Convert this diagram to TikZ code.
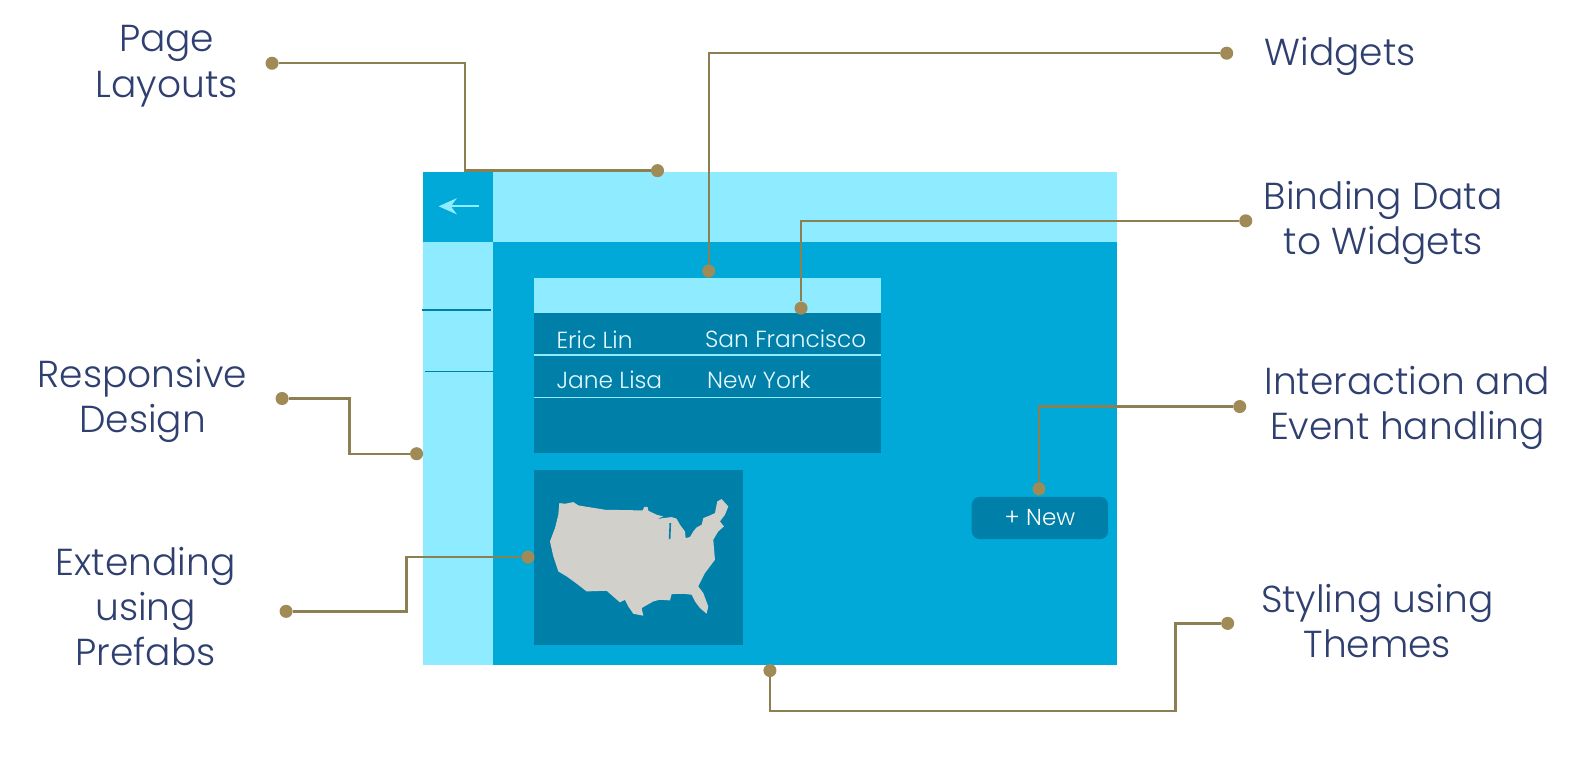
\documentclass[tikz,border=0pt]{standalone}
\usepackage{fontspec}
\setmainfont{Poppins}[UprightFont=* Light]
\usetikzlibrary{arrows.meta}
\definecolor{lightcyan}{HTML}{8FEBFF}
\definecolor{maincyan}{HTML}{00A9D8}
\definecolor{darkcyan}{HTML}{007FA8}
\definecolor{mapgray}{HTML}{D2D0CA}
\definecolor{linkbrown}{HTML}{8C7F52}
\definecolor{dotbrown}{HTML}{A08A55}
\definecolor{labelblue}{HTML}{2F4070}
\definecolor{rowtext}{HTML}{E4FAFF}
\tikzset{
    link/.style={draw=linkbrown,line width=1.2pt},
    dot/.style={circle,fill=dotbrown,inner sep=0pt,minimum size=6.5pt},
    label/.style={text=labelblue,font=\fontsize{18.7}{22.5}\selectfont,align=center},
    rowlabel/.style={text=rowtext,font=\fontsize{11.6}{14}\selectfont,anchor=base west,inner sep=0pt},
}
\begin{document}
\begin{tikzpicture}[x=0.5pt,y=-0.5pt]
    \useasboundingbox (0,0) rectangle (1568,756);
    \fill[white] (0,0) rectangle (1568,756);

    % Page frame
    \fill[maincyan] (421,171) rectangle (1113,662);
    \fill[lightcyan] (421,171) rectangle (1113,241);
    \fill[lightcyan] (421,241) rectangle (491,662);
    \fill[maincyan] (421,171) rectangle (491,241);
    \draw[lightcyan,line width=1pt,-{Stealth[length=9pt,width=8pt]}] (477,205.5) -- (437,205.5);
    \draw[darkcyan,line width=0.8pt] (420,309) -- (489,309);
    \draw[darkcyan,line width=0.8pt] (423,370) -- (491,370);

    % Table
    \fill[darkcyan] (532,312) rectangle (878,451);
    \fill[lightcyan] (532,277) rectangle (878,312);
    \draw[lightcyan,line width=0.8pt] (532,353.5) -- (878,353.5);
    \draw[lightcyan,line width=0.8pt] (532,396) -- (878,396);
    \node[rowlabel] (ericname) at (554,347) {Eric Lin};
    \node[rowlabel] (ericcity) at (702,346) {San Francisco};
    \node[rowlabel] (janename) at (554,387) {Jane Lisa};
    \node[rowlabel] (janecity) at (704,387) {New York};

    % Map
    \fill[darkcyan] (532,468) rectangle (740,643);
    \begin{scope}[shift={(518,458)},x=0.166pt,y=-0.166pt]
        \fill[mapgray] (118,130) -- (135,132) -- (160,127) -- (175,137) -- (255,150) -- (368,152)
            -- (373,141) -- (383,142) -- (385,153) -- (410,165) -- (430,170) -- (410,178)
            -- (430,175) -- (455,172) -- (470,177) -- (480,195) -- (495,215) -- (497,235)
            -- (510,232) -- (520,215) -- (530,203) -- (545,195) -- (550,175) -- (570,167)
            -- (585,160) -- (592,125) -- (605,118) -- (625,140) -- (615,165) -- (600,185)
            -- (612,200) -- (595,215) -- (580,240) -- (585,300) -- (570,320) -- (555,340)
            -- (535,380) -- (550,400) -- (565,440) -- (560,462) -- (540,445) -- (525,425)
            -- (515,405) -- (490,402) -- (455,403) -- (450,422) -- (420,420) -- (400,425)
            -- (365,445) -- (370,468) -- (340,462) -- (325,440) -- (315,420) -- (300,428)
            -- (285,415) -- (260,393) -- (200,395) -- (165,368) -- (140,350) -- (115,335)
            -- (100,290) -- (90,245) -- (105,205) -- (115,165) -- cycle;
        \draw[darkcyan,line width=0.8pt] (451,190) -- (449,238);
    \end{scope}

    % Button
    \node[fill=darkcyan,rounded corners=4pt,minimum width=68pt,minimum height=21pt,inner sep=0pt,
        text=white,font=\fontsize{11.5}{14}\selectfont] (newbutton) at (1036,516) {+ New};

    % Labels
    \node[label] (pagelabel) at (166,66) {Page\\Layouts};
    \node[label] (widgetlabel) at (1335,56) {Widgets};
    \node[label] (bindlabel) at (1378,222) {Binding Data\\to Widgets};
    \node[label] (respondlabel) at (142,399) {Responsive\\Design};
    \node[label] (eventlabel) at (1402,406) {Interaction and\\Event handling};
    \node[label] (prefablabel) at (145,604.5) {Extending\\using\\Prefabs};
    \node[label] (themelabel) at (1372,619) {Styling using\\Themes};

    % Connector dots
    \node[dot] (pagea) at (271,63) {};
    \node[dot] (pageb) at (655,170) {};
    \node[dot] (widgeta) at (1222,53) {};
    \node[dot] (widgetb) at (706,270) {};
    \node[dot] (binda) at (1241,220) {};
    \node[dot] (bindb) at (798,307) {};
    \node[dot] (eventa) at (1235,405) {};
    \node[dot] (eventb) at (1035,487) {};
    \node[dot] (themea) at (1223,621) {};
    \node[dot] (themeb) at (767,668) {};
    \node[dot] (responda) at (281,397) {};
    \node[dot] (respondb) at (415,452) {};
    \node[dot] (prefaba) at (285,609) {};
    \node[dot] (prefabb) at (526,555) {};
    \coordinate (pagemid) at (463,63);
    \coordinate (thememid) at (1171,708);
    \coordinate (respondmid) at (348,397);
    \coordinate (prefabmid) at (405,609);

    \draw[link] (pagea) -- (pagemid) |- (pageb);
    \draw[link] (widgeta) -| (widgetb);
    \draw[link] (binda) -| (bindb);
    \draw[link] (eventa) -| (eventb);
    \draw[link] (themea) -| (thememid) -| (themeb);
    \draw[link] (responda) -- (respondmid) |- (respondb);
    \draw[link] (prefaba) -- (prefabmid) |- (prefabb);
\end{tikzpicture}
\end{document}
